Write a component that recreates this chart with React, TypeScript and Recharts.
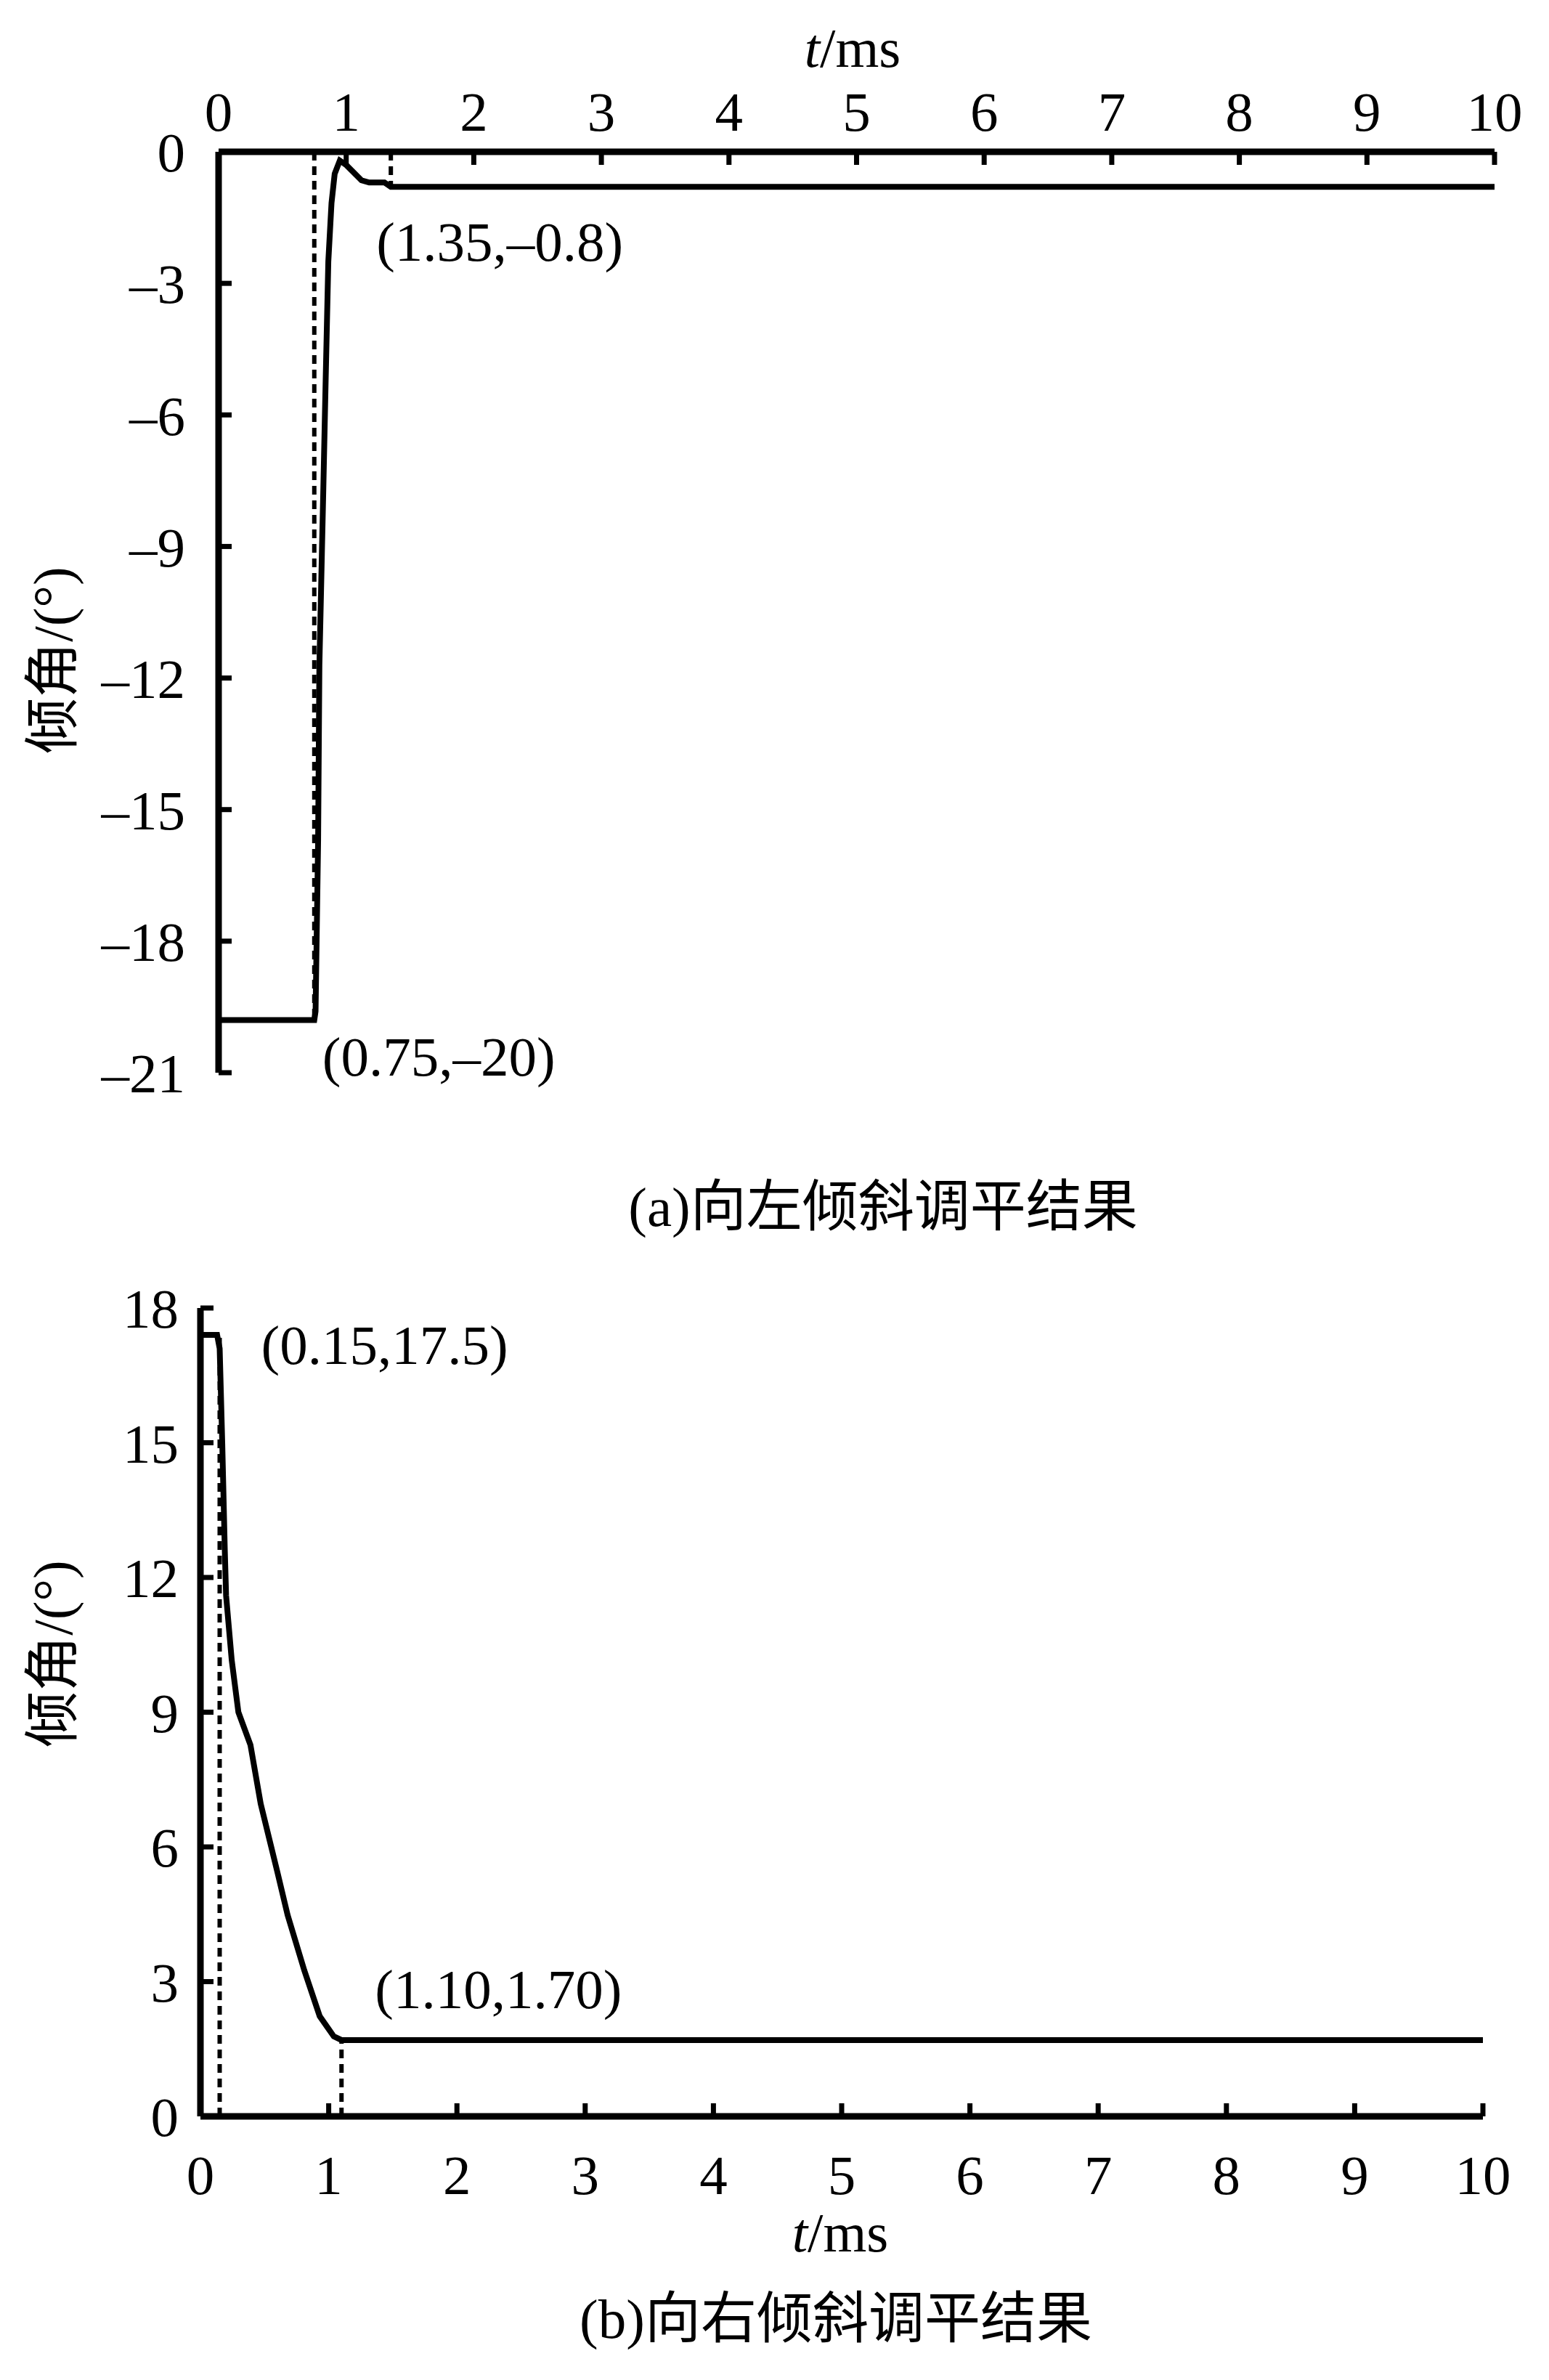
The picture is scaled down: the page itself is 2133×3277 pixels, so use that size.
import React from 'react';
import { LineChart, Line, XAxis, YAxis, ReferenceLine, ReferenceDot } from 'recharts';

// ---- Data: chart (a) 向左倾斜 ----
const timeA = [0, 0.75, 0.76, 0.78, 0.79, 0.82, 0.84, 0.86, 0.885, 0.91, 0.95, 1.0, 1.12, 1.18, 1.3, 1.35, 10];
const angleA = [-19.8, -19.8, -19.6, -15.7, -11.7, -7.8, -5.1, -2.5, -1.17, -0.5, -0.2, -0.3, -0.65, -0.7, -0.7, -0.8, -0.8];

// ---- Data: chart (b) 向右倾斜 ----
const timeB = [0, 0.13, 0.15, 0.17, 0.19, 0.2, 0.244, 0.296, 0.39, 0.47, 0.6, 0.68, 0.81, 0.93, 1.04, 1.1, 10];
const angleB = [17.4, 17.4, 17.1, 15.0, 12.6, 11.6, 10.16, 9.0, 8.27, 6.96, 5.44, 4.48, 3.25, 2.23, 1.78, 1.7, 1.7];

const xTicks = [0, 1, 2, 3, 4, 5, 6, 7, 8, 9, 10];
const yTicksA = [0, -3, -6, -9, -12, -15, -18, -21];
const yTicksB = [0, 3, 6, 9, 12, 15, 18];

const markA = { t0: 0.75, v0: -19.8, t1: 1.35, v1: -0.8 };
const markB = { t0: 0.15, v0: 17.4, t1: 1.1, v1: 1.7 };

const labelsA = ['(1.35,–0.8)', '(0.75,–20)'];
const labelsB = ['(0.15,17.5)', '(1.10,1.70)'];

const dataA = timeA.map((t, i) => ({ t, v: angleA[i] }));
const dataB = timeB.map((t, i) => ({ t, v: angleB[i] }));

const FONT = "'Liberation Serif','Times New Roman','Noto Sans CJK SC',serif";
const FS = 77;

const fmt = (v: number) => (v < 0 ? `–${Math.abs(v)}` : `${v}`);
const tickStyle = { fontSize: FS, fill: '#000', fontFamily: FONT };

function annot(text: string, dx: number, dy: number) {
  return (p: any) => {
    const vb = p.viewBox || {};
    const cx = (vb.x || 0) + (vb.width || 0) / 2;
    const cy = (vb.y || 0) + (vb.height || 0) / 2;
    return (
      <text x={cx + dx} y={cy + dy} fontSize={FS} fontFamily={FONT} fill="#000">
        {text}
      </text>
    );
  };
}

const dashProps = { stroke: '#000', strokeWidth: 6, strokeDasharray: '12 8', ifOverflow: 'visible' as const };
const axisStroke = { stroke: '#000', strokeWidth: 9 };
const tickStroke = { stroke: '#000', strokeWidth: 7 };

export default function App() {
  return (
    <div style={{ position: 'absolute', left: 0, top: 0, width: 2133, height: 3277, background: '#fff' }}>
      {/* chart (a) */}
      <div style={{ position: 'absolute', left: 0, top: 0 }}>
        <LineChart width={2133} height={1750} data={dataA} margin={{ top: 149, right: 75, bottom: 273, left: 101 }}>
          <XAxis
            dataKey="t"
            type="number"
            orientation="top"
            domain={[0, 10]}
            ticks={xTicks}
            height={60}
            axisLine={axisStroke}
            tickLine={tickStroke}
            tickSize={-18}
            tickMargin={47}
            tick={tickStyle}
            interval={0}
          />
          <YAxis
            type="number"
            domain={[-21, 0]}
            ticks={yTicksA}
            width={200}
            axisLine={axisStroke}
            tickLine={tickStroke}
            tickSize={-18}
            tickMargin={64}
            tick={tickStyle}
            tickFormatter={fmt}
            interval={0}
          />
          <ReferenceLine segment={[{ x: markA.t0, y: 0 }, { x: markA.t0, y: markA.v0 }]} {...dashProps} />
          <ReferenceLine segment={[{ x: markA.t1, y: 0 }, { x: markA.t1, y: markA.v1 }]} {...dashProps} />
          <Line
            type="linear"
            dataKey="v"
            stroke="#000"
            strokeWidth={8}
            dot={false}
            isAnimationActive={false}
          />
          <ReferenceDot x={markA.t1} y={markA.v1} r={1} fill="none" stroke="none" label={annot(labelsA[0], -20, 102)} />
          <ReferenceDot x={markA.t0} y={markA.v0} r={1} fill="none" stroke="none" label={annot(labelsA[1], 11, 76)} />
        </LineChart>
      </div>

      {/* chart (b) */}
      <div style={{ position: 'absolute', left: 0, top: 1700 }}>
        <LineChart width={2133} height={1500} data={dataB} margin={{ top: 101, right: 91, bottom: 226, left: 76 }}>
          <XAxis
            dataKey="t"
            type="number"
            orientation="bottom"
            domain={[0, 10]}
            ticks={xTicks}
            height={60}
            axisLine={axisStroke}
            tickLine={tickStroke}
            tickSize={-18}
            tickMargin={70}
            tick={tickStyle}
            interval={0}
          />
          <YAxis
            type="number"
            domain={[0, 18]}
            ticks={yTicksB}
            width={200}
            axisLine={axisStroke}
            tickLine={tickStroke}
            tickSize={-18}
            tickMargin={48}
            tick={tickStyle}
            tickFormatter={fmt}
            interval={0}
          />
          <ReferenceLine segment={[{ x: markB.t0, y: 0 }, { x: markB.t0, y: markB.v0 }]} {...dashProps} />
          <ReferenceLine segment={[{ x: markB.t1, y: 0 }, { x: markB.t1, y: markB.v1 }]} {...dashProps} />
          <Line
            type="linear"
            dataKey="v"
            stroke="#000"
            strokeWidth={8}
            dot={false}
            isAnimationActive={false}
          />
          <ReferenceDot x={markB.t0} y={markB.v0} r={1} fill="none" stroke="none" label={annot(labelsB[0], 57, 40)} />
          <ReferenceDot x={markB.t1} y={markB.v1} r={1} fill="none" stroke="none" label={annot(labelsB[1], 46, -44)} />
        </LineChart>
      </div>

      {/* titles & captions */}
      <svg width={2133} height={3277} style={{ position: 'absolute', left: 0, top: 0, pointerEvents: 'none' }}>
        <g fontFamily={FONT} fontSize={FS} fill="#000">
          <text x={1174} y={92} textAnchor="middle">
            <tspan fontStyle="italic">t</tspan>/ms
          </text>
          <text transform="translate(73,909) rotate(-90)" textAnchor="middle" dominantBaseline="central">
            倾角/(°)
          </text>
          <text x={1216} y={1688} textAnchor="middle">(a)向左倾斜调平结果</text>

          <text x={1157} y={3100} textAnchor="middle">
            <tspan fontStyle="italic">t</tspan>/ms
          </text>
          <text transform="translate(73,2277) rotate(-90)" textAnchor="middle" dominantBaseline="central">
            倾角/(°)
          </text>
          <text x={1151} y={3219} textAnchor="middle">(b)向右倾斜调平结果</text>
        </g>
      </svg>
    </div>
  );
}
